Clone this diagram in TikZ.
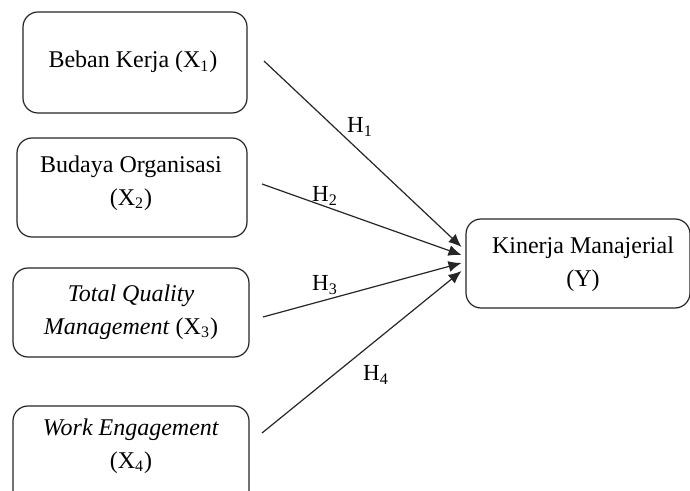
\documentclass[tikz,border=0pt]{standalone}
\usepackage{fontspec}
\setmainfont{Liberation Serif}
\usetikzlibrary{arrows.meta}
\begin{document}
\begin{tikzpicture}[x=0.5pt,y=-0.5pt,
  box/.style={draw=black!85, line width=0.6pt, rounded corners=7.5pt, inner sep=0pt},
  lbl/.style={font=\fontsize{12pt}{16.5pt}\selectfont, align=center, inner sep=0pt},
  hlab/.style={font=\fontsize{11.5pt}{14pt}\selectfont, inner sep=0pt},
  conn/.style={draw=black!85, line width=0.6pt, -{Latex[length=6.5pt,width=5.5pt]}}]
\useasboundingbox (0,0) rectangle (690,491);
\fill[white] (0,0) rectangle (690,491);
% boxes
\node[box, minimum width=112pt, minimum height=50.5pt] (b1) at (135,62.5) {};
\node[box, minimum width=115pt, minimum height=49.5pt] (b2) at (132,187.5) {};
\node[box, minimum width=118pt, minimum height=44.5pt] (b3) at (131,312.5) {};
\node[box, minimum width=118pt, minimum height=52pt] (b4) at (131,458) {};
\node[box, minimum width=112pt, minimum height=44.5pt] (by) at (578,263.5) {};
% texts
\node[lbl] (l1) at (133,62) {Beban Kerja (X\textsubscript{1})};
\node[lbl] (l2) at (131,183) {Budaya Organisasi\\(X\textsubscript{2})};
\node[lbl] (l3) at (131,312) {\textit{Total Quality}\\\textit{Management} (X\textsubscript{3})};
\node[lbl] (l4) at (131,446) {\textit{Work Engagement}\\(X\textsubscript{4})};
\node[lbl] (ly) at (583,264) {Kinerja Manajerial\\(Y)};
% connector ends
\coordinate (s1) at (264,61);
\coordinate (s2) at (262,184);
\coordinate (s3) at (263,317);
\coordinate (s4) at (262,433);
\coordinate (e1) at (461.5,247);
\coordinate (e2) at (461.5,255);
\coordinate (e3) at (461.5,263);
\coordinate (e4) at (461.5,271);
\draw[conn] (s1) -- (e1);
\draw[conn] (s2) -- (e2);
\draw[conn] (s3) -- (e3);
\draw[conn] (s4) -- (e4);
% hypothesis labels
\node[hlab] (h1) at (360,127) {H\textsubscript{1}};
\node[hlab] (h2) at (325,196) {H\textsubscript{2}};
\node[hlab] (h3) at (325,285) {H\textsubscript{3}};
\node[hlab] (h4) at (376,375) {H\textsubscript{4}};
\end{tikzpicture}
\end{document}
